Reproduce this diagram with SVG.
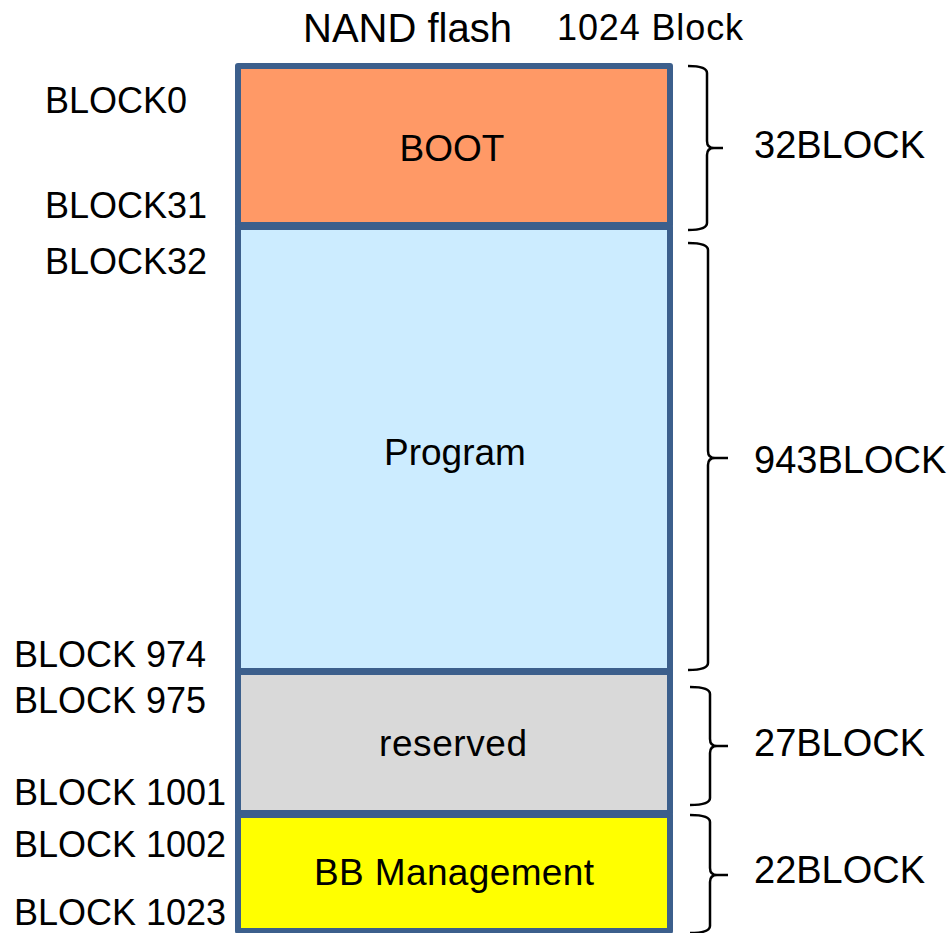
<svg xmlns="http://www.w3.org/2000/svg" width="952" height="933" viewBox="0 0 952 933">
<style>
text{font-family:"Liberation Sans",Arial,sans-serif;fill:#000}
.blk{stroke:#3C5F8C;stroke-width:6;stroke-linejoin:round}
.lbl{font-size:36px}
.ctr{font-size:37px;text-anchor:middle}
.rl{font-size:38px}
.brace{fill:none;stroke:#000;stroke-width:2.5}
</style>
<rect width="952" height="933" fill="#fff"/>
<g id="title">
<text x="303" y="42" font-size="40">NAND flash</text>
<text x="557" y="40" font-size="36" textLength="186">1024 Block</text>
</g>
<g id="boot">
<rect class="blk" x="238" y="66" width="432" height="159" fill="#FF9966"/>
<text class="ctr" x="452" y="161" font-size="38">BOOT</text>
</g>
<g id="program">
<rect class="blk" x="238" y="227" width="432" height="444" fill="#CCECFF"/>
<text class="ctr" x="455" y="465">Program</text>
</g>
<g id="reserved">
<rect class="blk" x="238" y="672" width="432" height="141" fill="#D9D9D9"/>
<text class="ctr" x="453" y="756" textLength="148">reserved</text>
</g>
<g id="bb">
<rect class="blk" x="238" y="815" width="432" height="116" fill="#FFFF00"/>
<text class="ctr" x="454" y="885" textLength="280">BB Management</text>
</g>
<g id="left-labels">
<text class="lbl" x="45" y="113">BLOCK0</text>
<text class="lbl" x="45" y="218">BLOCK31</text>
<text class="lbl" x="45" y="274">BLOCK32</text>
<text class="lbl" x="14" y="667">BLOCK 974</text>
<text class="lbl" x="14" y="713">BLOCK 975</text>
<text class="lbl" x="14" y="805">BLOCK 1001</text>
<text class="lbl" x="14" y="857">BLOCK 1002</text>
<text class="lbl" x="14" y="925">BLOCK 1023</text>
</g>
<g id="connectors">
<path class="brace" d="M688,66 Q707,66 707,73 V141 Q707,148 714,148 H723 M714,148 Q707,148 707,155 V223 Q707,230 688,230"/>
<path class="brace" d="M688,243 Q708,243 708,250 V451 Q708,458 715,458 H728 M715,458 Q708,458 708,465 V663 Q708,670 688,670"/>
<path class="brace" d="M690,687 Q710,687 710,694 V739 Q710,746 717,746 H728 M717,746 Q710,746 710,753 V798 Q710,805 690,805"/>
<path class="brace" d="M690,815 Q710,815 710,822 V868 Q710,875 717,875 H728 M717,875 Q710,875 710,882 V926 Q710,933 690,933"/>
</g>
<g id="right-labels">
<text class="rl" x="754" y="158">32BLOCK</text>
<text class="rl" x="754" y="473">943BLOCK</text>
<text class="rl" x="754" y="756">27BLOCK</text>
<text class="rl" x="754" y="883">22BLOCK</text>
</g>
</svg>
